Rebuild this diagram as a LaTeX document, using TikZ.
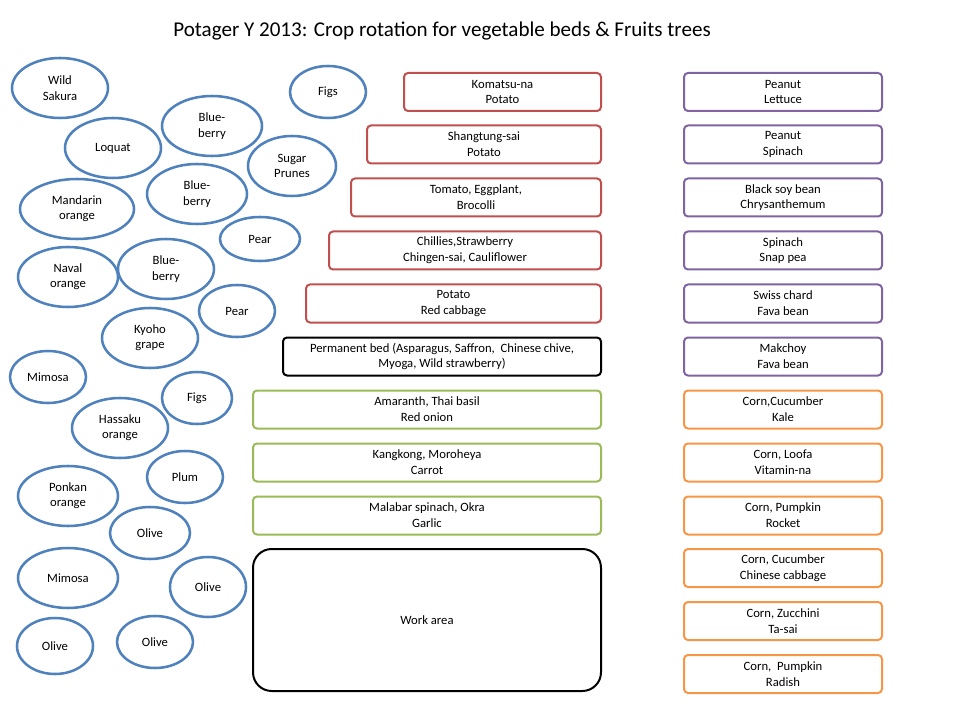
\documentclass[tikz,border=0pt]{standalone}
\usepackage{fontspec}
\setmainfont{Carlito}
\usetikzlibrary{shapes.geometric}
\definecolor{cred}{HTML}{C0504D}
\definecolor{cpur}{HTML}{8064A2}
\definecolor{cgrn}{HTML}{9BBB59}
\definecolor{cora}{HTML}{F79646}
\definecolor{cblu}{HTML}{4F81BD}
\begin{document}
\begin{tikzpicture}[x=0.75pt,y=-0.75pt,
 tree/.style={ellipse,draw=cblu,line width=1.9pt,fill=white,align=center,font=\fontsize{9.5}{11.5}\selectfont,inner sep=0pt},
 bed/.style={draw,rounded corners=3pt,line width=1.5pt,align=center,font=\fontsize{9.5}{11.8}\selectfont,inner sep=0pt}]
\useasboundingbox (0,0) rectangle (960,720);
\node (title) at (442,31) {\fontsize{15.8}{18}\selectfont Potager Y 2013: Crop rotation for vegetable beds \& Fruits trees};
\newcommand{\tr}[6]{\node[tree,minimum width=#4*1.5pt,minimum height=#5*1.5pt] (#1) at (#2,#3) {#6};}
\tr{t1}{60}{88}{48}{30}{Wild\\Sakura}
\tr{t2}{113}{148}{48}{30}{Loquat}
\tr{t3}{212}{126}{50}{30}{Blue-\\berry}
\tr{t4}{328}{92}{38}{26}{Figs}
\tr{t5}{292}{166}{44}{30}{Sugar\\Prunes}
\tr{t6}{77}{209}{57}{30}{Mandarin\\orange}
\tr{t7}{197}{194}{50}{30}{Blue-\\berry}
\tr{t8}{260}{239}{40}{22}{Pear}
\tr{t9}{68}{277}{50}{30}{Naval\\orange}
\tr{t10}{166}{269}{48}{30}{Blue-\\berry}
\tr{t11}{237}{311}{38}{26}{Pear}
\tr{t12}{150}{338}{48}{30}{Kyoho\\grape}
\tr{t13}{48}{377}{38}{26}{Mimosa}
\tr{t14}{197}{398}{35}{26}{Figs}
\tr{t15}{120}{428}{48}{30}{Hassaku\\orange}
\tr{t16}{185}{477}{38}{26}{Plum}
\tr{t17}{68}{496}{50}{30}{Ponkan\\orange}
\tr{t18}{150}{533}{40}{26}{Olive}
\tr{t19}{68}{578}{50}{30}{Mimosa}
\tr{t20}{208}{587}{38}{30}{Olive}
\tr{t21}{55}{646}{38}{28}{Olive}
\tr{t22}{155}{642}{38}{26}{Olive}
\newcommand{\bd}[6]{\node[bed,draw=#6,minimum width=(601-#2)*0.75pt,minimum height=28.5pt] (#1) at ({(601+#2)/2},#3) {#4\\#5};}
\bd{m1}{404}{92}{Komatsu-na}{Potato}{cred}
\bd{m2}{367}{144.5}{Shangtung-sai}{Potato}{cred}
\bd{m3}{351}{197.5}{Tomato, Eggplant,}{Brocolli}{cred}
\bd{m4}{329}{250.5}{Chillies,Strawberry}{Chingen-sai, Cauliflower}{cred}
\bd{m5}{306}{303.5}{Potato}{Red cabbage}{cred}
\bd{m6}{283}{356.5}{Permanent bed (Asparagus, Saffron,\ \ Chinese chive,}{Myoga, Wild strawberry)}{black}
\bd{m7}{253}{409.5}{Amaranth, Thai basil}{Red onion}{cgrn}
\bd{m8}{253}{462.5}{Kangkong, Moroheya}{Carrot}{cgrn}
\bd{m9}{253}{515.5}{Malabar spinach, Okra}{Garlic}{cgrn}
\node[bed,draw=black,rounded corners=14pt,minimum width=261pt,minimum height=106.5pt] (work) at (427,620) {Work area};
\newcommand{\rb}[5]{\node[bed,draw=#5,minimum width=148.5pt,minimum height=28.5pt] (#1) at (783,#2) {#3\\#4};}
\rb{r1}{92}{Peanut}{Lettuce}{cpur}
\rb{r2}{144.5}{Peanut}{Spinach}{cpur}
\rb{r3}{197.5}{Black soy bean}{Chrysanthemum}{cpur}
\rb{r4}{250.5}{Spinach}{Snap pea}{cpur}
\rb{r5}{303.5}{Swiss chard}{Fava bean}{cpur}
\rb{r6}{356.5}{Makchoy}{Fava bean}{cpur}
\rb{r7}{409.5}{Corn,Cucumber}{Kale}{cora}
\rb{r8}{462.5}{Corn, Loofa}{Vitamin-na}{cora}
\rb{r9}{515.5}{Corn, Pumpkin}{Rocket}{cora}
\rb{r10}{568}{Corn, Cucumber}{Chinese cabbage}{cora}
\rb{r11}{621}{Corn, Zucchini}{Ta-sai}{cora}
\rb{r12}{674}{Corn,\ \ Pumpkin}{Radish}{cora}
\end{tikzpicture}
\end{document}
